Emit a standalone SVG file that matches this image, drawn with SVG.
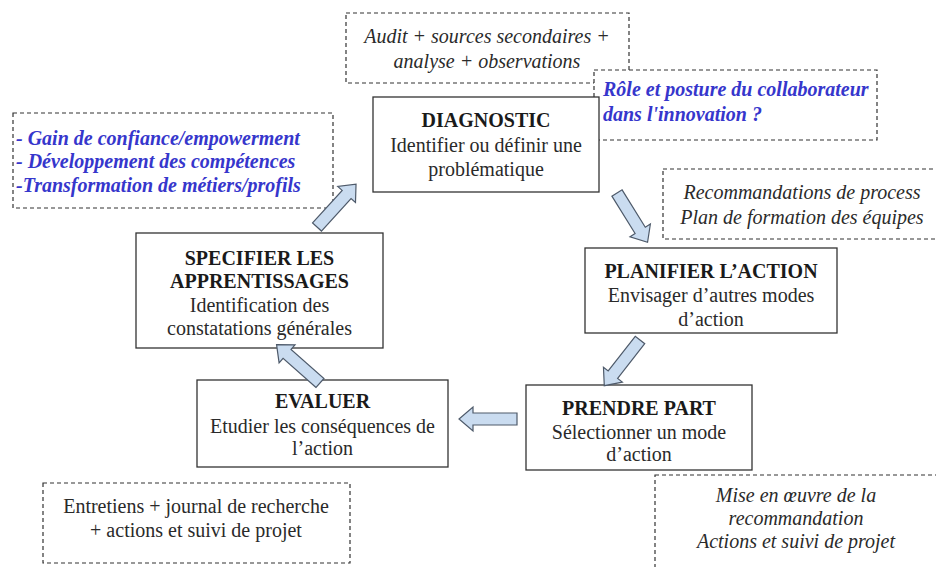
<svg xmlns="http://www.w3.org/2000/svg" xmlns:xlink="http://www.w3.org/1999/xlink" width="936" height="567" viewBox="0 0 936 567">
<style>
.box{fill:#fff;stroke:#333;stroke-width:1.3}
.dash{fill:#fff;stroke:#333;stroke-width:1.2;stroke-dasharray:4 3}
.t{font-family:"Liberation Serif","Times New Roman",serif;font-size:20px;fill:#2a2a2a;text-anchor:middle}
.h{font-weight:bold;fill:#1a1a1a}
.i{font-style:italic}
.blue{font-family:"Liberation Serif","Times New Roman",serif;font-size:20px;font-weight:bold;font-style:italic;fill:#3636cc}
.arr{fill:#cadcf0;stroke:#4e5a6a;stroke-width:1.2;stroke-linejoin:miter}
</style>
<defs>
<path id="arrow" d="M0,-6 H44 V-12 L58,0 L44,12 V6 H0 Z"/>
</defs>
<rect width="936" height="567" fill="#fff"/>

<g id="note-audit">
<rect class="dash" x="346" y="13" width="283" height="70"/>
<text class="t i" x="487" y="43">Audit + sources secondaires +</text>
<text class="t i" x="487" y="68">analyse + observations</text>
</g>

<g id="note-role">
<rect class="dash" x="594" y="70" width="283" height="70"/>
<text class="blue" x="603" y="96">Rôle et posture du collaborateur</text>
<text class="blue" x="603" y="121">dans l'innovation ?</text>
</g>

<g id="diagnostic">
<rect class="box" x="373" y="97" width="226" height="95"/>
<text class="t h" x="486" y="127">DIAGNOSTIC</text>
<text class="t" x="486" y="152">Identifier ou définir une</text>
<text class="t" x="486" y="176">problématique</text>
</g>

<g id="note-gains">
<rect class="dash" x="13" y="113" width="320" height="95"/>
<text class="blue" x="16" y="145">- Gain de confiance/empowerment</text>
<text class="blue" x="16" y="168">- Développement des compétences</text>
<text class="blue" x="16" y="192">-Transformation de métiers/profils</text>
</g>

<g id="note-recommandations">
<rect class="dash" x="663" y="169" width="290" height="70"/>
<text class="t i" x="802" y="199">Recommandations de process</text>
<text class="t i" x="802" y="224">Plan de formation des équipes</text>
</g>

<g id="planifier">
<rect class="box" x="585" y="248" width="252" height="85"/>
<text class="t h" x="711" y="278">PLANIFIER L’ACTION</text>
<text class="t" x="711" y="302">Envisager d’autres modes</text>
<text class="t" x="711" y="326">d’action</text>
</g>

<g id="specifier">
<rect class="box" x="136" y="233" width="247" height="115"/>
<text class="t h" x="259.5" y="265">SPECIFIER LES</text>
<text class="t h" x="259.5" y="288">APPRENTISSAGES</text>
<text class="t" x="259.5" y="312">Identification des</text>
<text class="t" x="259.5" y="335">constatations générales</text>
</g>

<g id="prendre-part">
<rect class="box" x="526" y="385" width="226" height="85"/>
<text class="t h" x="639" y="415">PRENDRE PART</text>
<text class="t" x="639" y="439">Sélectionner un mode</text>
<text class="t" x="639" y="461">d’action</text>
</g>

<g id="evaluer">
<rect class="box" x="197" y="380" width="251" height="87"/>
<text class="t h" x="322.5" y="408">EVALUER</text>
<text class="t" x="322.5" y="433">Etudier les conséquences de</text>
<text class="t" x="322.5" y="455">l’action</text>
</g>

<g id="note-entretiens">
<rect class="dash" x="43" y="483" width="307" height="80"/>
<text class="t" x="196" y="513">Entretiens + journal de recherche</text>
<text class="t" x="196" y="537">+ actions et suivi de projet</text>
</g>

<g id="note-mise-en-oeuvre">
<rect class="dash" x="655" y="475" width="290" height="110"/>
<text class="t i" x="796" y="502">Mise en œuvre de la</text>
<text class="t i" x="796" y="525">recommandation</text>
<text class="t i" x="796" y="548">Actions et suivi de projet</text>
</g>

<g id="connectors">
<use xlink:href="#arrow" class="arr" transform="translate(317,227) rotate(-47.7)"/>
<use xlink:href="#arrow" class="arr" transform="translate(617,193) rotate(58.2)"/>
<use xlink:href="#arrow" class="arr" transform="translate(640,340) rotate(128)"/>
<use xlink:href="#arrow" class="arr" transform="translate(517,419) rotate(180)"/>
<use xlink:href="#arrow" class="arr" transform="translate(320,383) rotate(221.5)"/>
</g>
</svg>
